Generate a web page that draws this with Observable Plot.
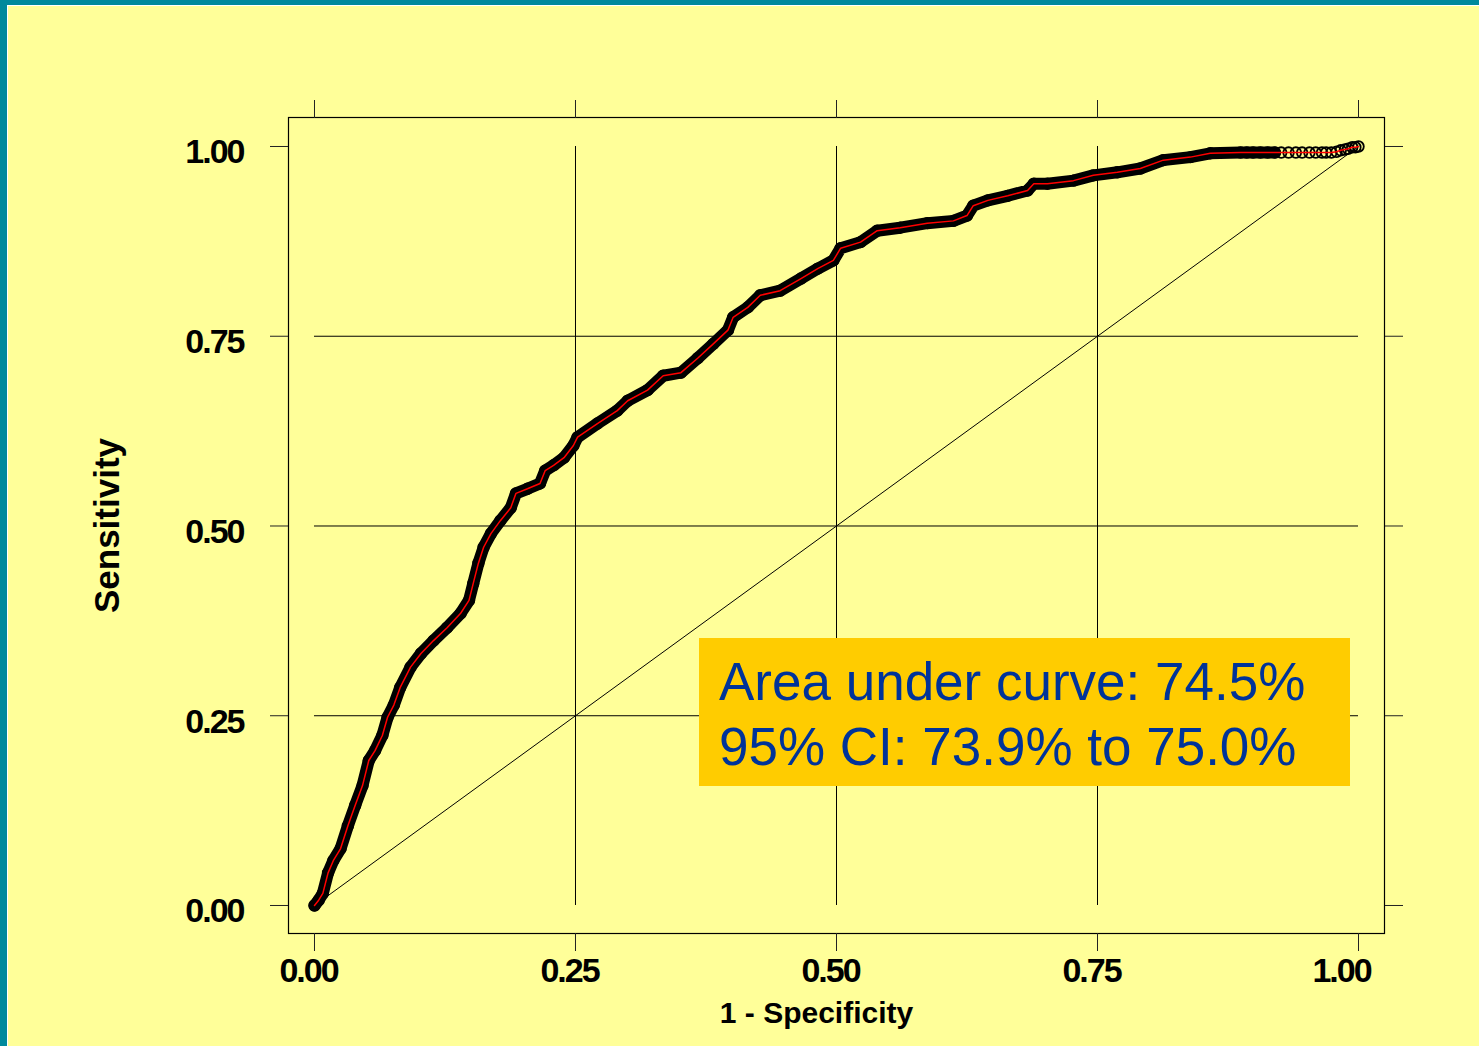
<!DOCTYPE html>
<html><head><meta charset="utf-8">
<script src="https://cdn.jsdelivr.net/npm/d3@7"></script>
<script src="https://cdn.jsdelivr.net/npm/@observablehq/plot@0.6"></script>
<style>
html,body{margin:0;padding:0;}
body{width:1479px;height:1046px;background:#00899C;position:relative;overflow:hidden;font-family:"Liberation Sans",Arial,sans-serif;}
#page{position:absolute;left:7px;top:5px;right:0;bottom:0;background:#FFFF99;border-left:1.5px solid #fff;border-top:1.5px solid #fff;}
#chart{position:absolute;left:0;top:0;}
#auc{position:absolute;left:699px;top:638px;width:651px;height:148px;background:#FFCC00;color:#003399;font-size:53px;line-height:65px;box-sizing:border-box;padding:11px 0 0 20px;white-space:nowrap;font-family:"Liberation Sans",Arial,sans-serif;}
</style></head>
<body>
<div id="page"></div>
<div id="chart"></div>
<div id="auc"><div>Area under curve: 74.5%</div><div>95% CI: 73.9% to 75.0%</div></div>
<script>
// ROC curve: 1 - specificity (x) and sensitivity (y)
const fpr = [0,0.004,0.008,0.013,0.018,0.025,0.032,0.039,0.046,0.052,0.058,0.065,0.070,0.076,0.082,0.092,0.102,0.114,0.127,0.140,0.148,0.152,0.157,0.162,0.169,0.178,0.188,0.193,0.204,0.216,0.221,0.229,0.239,0.248,0.252,0.271,0.290,0.300,0.319,0.334,0.351,0.367,0.382,0.396,0.401,0.415,0.427,0.446,0.466,0.482,0.497,0.504,0.523,0.539,0.561,0.587,0.612,0.625,0.631,0.645,0.664,0.683,0.689,0.702,0.727,0.746,0.769,0.791,0.813,0.839,0.858,0.887,
  0.893,0.899,0.906,0.913,0.920,0.926,0.933,0.940,0.946,0.953,0.959,0.965,0.969,0.974,0.979,0.983,0.987,0.990,0.994,0.997,1.000];
const tpr = [0,0.007,0.016,0.043,0.059,0.075,0.105,0.132,0.158,0.191,0.204,0.224,0.248,0.264,0.287,0.314,0.332,0.349,0.366,0.385,0.402,0.424,0.451,0.472,0.490,0.507,0.524,0.543,0.549,0.556,0.573,0.580,0.590,0.606,0.617,0.635,0.652,0.665,0.679,0.698,0.702,0.721,0.740,0.758,0.775,0.788,0.804,0.810,0.826,0.839,0.850,0.866,0.874,0.889,0.893,0.899,0.902,0.909,0.922,0.929,0.935,0.942,0.951,0.951,0.955,0.962,0.966,0.971,0.982,0.986,0.991,0.992,
  0.992,0.992,0.992,0.992,0.992,0.992,0.992,0.992,0.992,0.992,0.992,0.992,0.992,0.992,0.993,0.995,0.996,0.997,0.999,0.999,1.000];
const xTicks = [0, 0.25, 0.5, 0.75, 1];
const yTicks = [0, 0.25, 0.5, 0.75, 1];
const gridX = [0.25, 0.5, 0.75];
const gridY = [0.25, 0.5, 0.75];
const diag = [0, 1];
const xTitle = "1 - Specificity";
const yTitle = "Sensitivity";

const pts = fpr.map((x, i) => ({x, y: tpr[i]}));
const band = pts.filter(d => d.x <= 0.92);
const fmt = d => d.toFixed(2);
const font = "Liberation Sans, Arial, sans-serif";
const xLabelStyle = {text: fmt, frameAnchor: "bottom", lineAnchor: "top", dy: 24, fontSize: 34, fontWeight: "bold", fill: "#000"};

const chart = Plot.plot({
  width: 1479, height: 1046,
  marginLeft: 288, marginRight: 95, marginTop: 117, marginBottom: 113,
  x: {domain: [-0.0249, 1.0249]},
  y: {domain: [-0.0369, 1.0382]},
  style: {background: "transparent", color: "#000", fontFamily: font, overflow: "visible"},
  marks: [
    Plot.ruleX(gridX, {x: d => d, y1: 0, y2: 1, stroke: "#000", strokeWidth: 1}),
    Plot.ruleY(gridY, {y: d => d, x1: 0, x2: 1, stroke: "#000", strokeWidth: 1}),
    Plot.line(diag, {x: d => d, y: d => d, stroke: "#000", strokeWidth: 1}),
    Plot.frame({stroke: "#000", strokeWidth: 1.2}),
    Plot.axisX(xTicks, {anchor: "bottom", tickSize: 18, tickFormat: () => "", label: null, stroke: "#222"}),
    Plot.axisX(xTicks, {anchor: "top", tickSize: 18, tickFormat: () => "", label: null, stroke: "#222"}),
    Plot.axisY(yTicks, {anchor: "left", tickSize: 18, tickFormat: () => "", label: null, stroke: "#222"}),
    Plot.axisY(yTicks, {anchor: "right", tickSize: 18, tickFormat: () => "", label: null, stroke: "#222"}),
    Plot.text(xTicks.slice(0, -1), {x: d => d, dx: -6, ...xLabelStyle}),
    Plot.text(xTicks.slice(-1), {x: d => d, dx: -17, ...xLabelStyle}),
    Plot.text(yTicks, {y: d => d, text: fmt, frameAnchor: "left", textAnchor: "end", lineAnchor: "middle", dx: -45, dy: 6, fontSize: 34, fontWeight: "bold", fill: "#000"}),
    Plot.text([xTitle], {text: d => d, frameAnchor: "bottom", lineAnchor: "middle", dx: -20, dy: 80, fontSize: 30, fontWeight: "bold", fill: "#000"}),
    Plot.text([yTitle], {text: d => d, frameAnchor: "left", textAnchor: "middle", rotate: -90, lineAnchor: "middle", dx: -181, fontSize: 35, fontWeight: "bold", fill: "#000"}),
    Plot.line(band, {x: "x", y: "y", stroke: "#000", strokeWidth: 12, strokeLinejoin: "round", strokeLinecap: "round"}),
    Plot.dot(pts, {x: "x", y: "y", r: 5.3, stroke: "#000", strokeWidth: 1.8, fill: "none"}),
    Plot.line(pts, {x: "x", y: "y", stroke: "#FF0000", strokeWidth: 1.5})
  ]
});
document.getElementById("chart").appendChild(chart);
d3.select(chart).selectAll("text").filter(function() { return /^\d\.\d\d$/.test(this.textContent); }).style("letter-spacing", "-2px");
</script>
</body></html>
